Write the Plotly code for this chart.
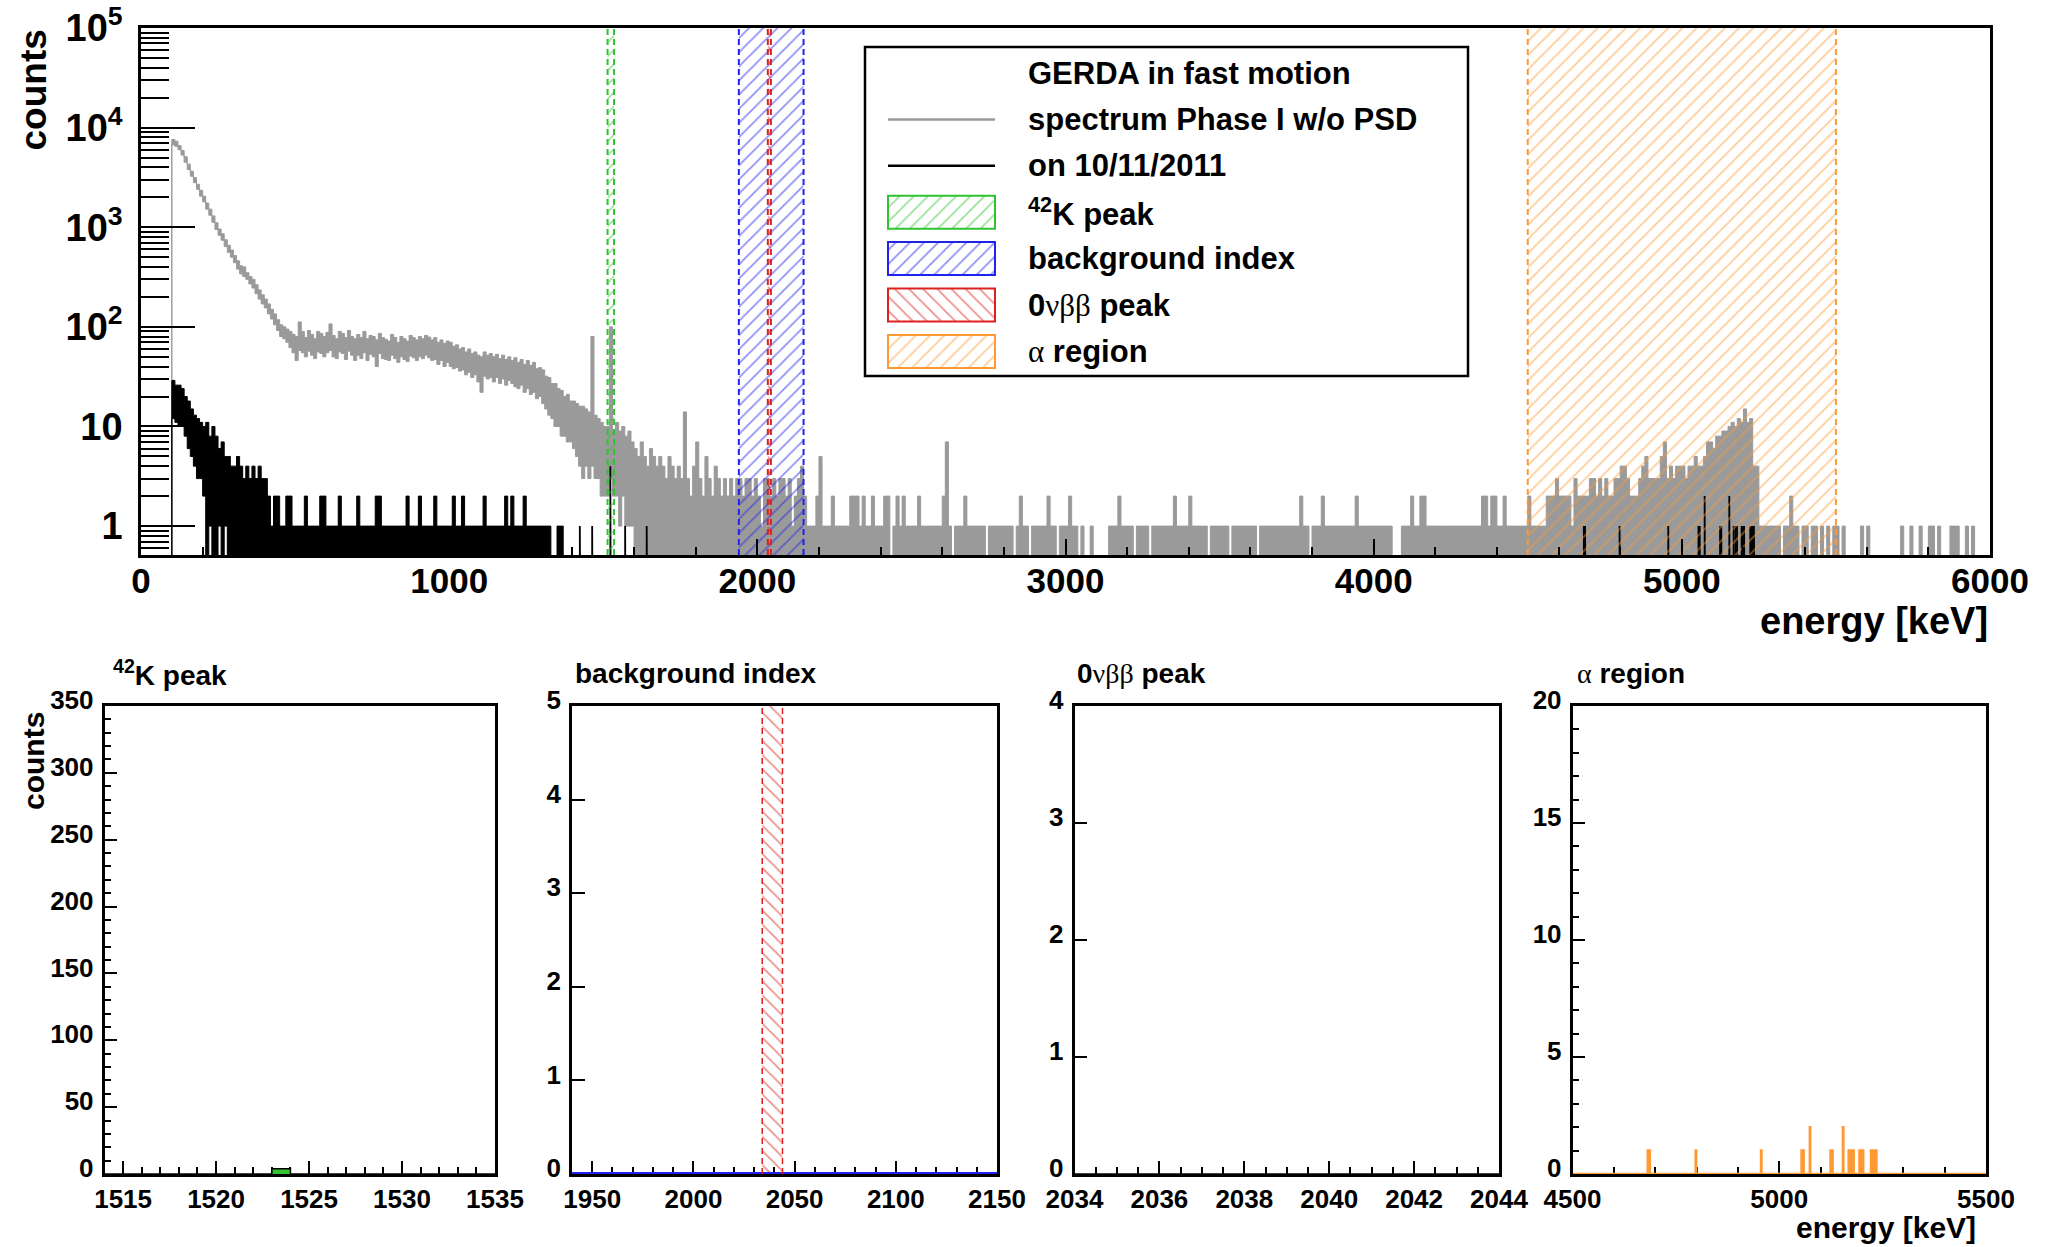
import numpy as np
import plotly.graph_objects as go

W, H = 2048, 1247
FONT = "Liberation Sans, Arial, Helvetica, sans-serif"

# ======================= DATA =======================
BIN_KEV = 10          # bin width of the overview spectrum (keV)
START_KEV = 100       # first bin edge (energy threshold)

# grey: Phase I spectrum, upper / lower envelope per 10 keV bin, 100-1600 keV
gray_hi_100_1600 = [
    7600, 7300, 6600, 5900, 5100, 4300, 3650, 3150, 2700, 2350,
    2050, 1750, 1520, 1300, 1110, 960, 860, 750, 660, 590,
    520, 460, 410, 400, 350, 320, 300, 265, 235, 210,
    190, 170, 150, 135, 118, 105, 100, 95, 90, 84,
    80, 112, 90, 78, 92, 84, 76, 90, 86, 80,
    88, 107, 82, 76, 90, 86, 78, 92, 80, 76,
    84, 78, 90, 76, 82, 80, 74, 86, 78, 75,
    72, 84, 78, 70, 80, 76, 72, 82, 78, 74,
    80, 76, 82, 79, 74, 78, 70, 74, 68, 72,
    70, 64, 66, 60, 62, 56, 60, 54, 56, 52,
    50, 56, 52, 54, 50, 53, 48, 52, 47, 50,
    46, 49, 44, 47, 42, 46, 41, 44, 38, 39,
    37, 32, 31, 27, 27, 24, 23, 20, 21, 18,
    18, 17, 16, 16, 15, 14, 80, 13, 12, 11,
    10, 10, 100, 9, 11, 9, 10, 8, 9, 7,
]
gray_lo_100_1600 = [
    6700, 6500, 6000, 5300, 4500, 3800, 3250, 2800, 2400, 2050,
    1800, 1520, 1320, 1120, 950, 830, 740, 640, 560, 500,
    440, 380, 340, 320, 300, 270, 245, 215, 190, 170,
    155, 135, 120, 105, 92, 80, 76, 70, 62, 55,
    46, 58, 55, 50, 57, 52, 48, 56, 54, 50,
    55, 58, 50, 48, 56, 54, 47, 57, 52, 46,
    52, 48, 55, 46, 53, 50, 40, 54, 48, 47,
    46, 52, 48, 44, 50, 47, 45, 51, 49, 46,
    50, 48, 52, 49, 46, 47, 42, 46, 40, 44,
    40, 38, 39, 36, 37, 33, 35, 31, 33, 28,
    22, 32, 30, 31, 28, 31, 27, 30, 26, 29,
    27, 25, 24, 26, 22, 24, 21, 22, 19, 20,
    17, 15, 13, 12, 10, 10, 8, 8, 7, 7,
    6, 5, 4, 3, 4, 3, 4, 3, 3, 2,
    2, 2, 3, 2, 2, 1, 2, 1, 1, 1,
]
# grey upper envelope above 1600 keV (lower envelope is 0 there)
gray_hi_1600_1940 = [
    6, 5, 7, 5, 4, 6, 5, 4, 5, 4,
    3, 5, 4, 3, 4, 3, 14, 3, 2, 4,
    7, 3, 2, 5, 3, 2, 4, 3, 2, 3,
    2, 3, 2, 3,
]
gray_hi_1940_2150 = [3, 2, 3, 3, 2, 3, 2, 1, 3, 3, 2, 3, 2, 3, 3, 2, 3, 1, 2, 3, 4]
gray_hi_2150_4500 = [
    2, 1, 1, 1, 2,
    5, 1, 1, 1, 2, 1, 1, 1, 1, 1,
    2, 2, 2, 1, 2, 1, 1, 2, 1, 1,
    1, 2, 2, 0, 1, 2, 1, 2, 1, 1,
    1, 1, 2, 1, 1, 1, 1, 1, 1, 1,
    2, 7, 1, 0, 1, 1, 1, 2, 1, 1,
    1, 1, 1, 1, 0, 1, 1, 1, 1, 1,
    1, 1, 1, 0, 1, 2, 1, 1, 0, 1,
    1, 1, 1, 1, 2, 1, 1, 0, 1, 1,
    1, 2, 1, 1, 0, 1, 0, 0, 1, 0,
    0, 0, 0, 0, 1, 1, 1, 2, 1, 1,
    1, 1, 0, 1, 1, 1, 1, 0, 1, 1,
    1, 1, 1, 1, 1, 2, 1, 1, 1, 1,
    2, 1, 1, 1, 1, 1, 0, 1, 1, 1,
    1, 1, 1, 0, 1, 1, 1, 1, 1, 1,
    1, 1, 0, 1, 1, 1, 1, 1, 1, 1,
    1, 1, 1, 1, 1, 1, 2, 1, 1, 0,
    1, 1, 1, 2, 1, 1, 1, 1, 1, 1,
    1, 1, 1, 1, 2, 1, 1, 1, 1, 1,
    1, 1, 1, 1, 1, 1, 0, 0, 0, 1,
    1, 1, 2, 1, 1, 2, 2, 1, 1, 1,
    1, 1, 1, 1, 1, 1, 1, 1, 1, 1,
    1, 1, 1, 1, 1, 2, 2, 1, 2, 2,
    1, 1, 2, 1, 1, 1, 1, 1, 1, 1,
]
gray_hi_4500_5500 = [
    2, 1, 1, 1, 1, 1, 2, 2, 2, 3,
    2, 2, 2, 2, 1, 3, 2, 2, 2, 2,
    3, 3, 2, 3, 2, 3, 2, 2, 3, 3,
    4, 4, 3, 2, 2, 2, 3, 4, 5, 3,
    3, 3, 3, 5, 7, 3, 4, 3, 4, 4,
    4, 3, 4, 4, 5, 4, 4, 5, 7, 7,
    6, 8, 8, 9, 9, 10, 11, 10, 12, 11,
    15, 11, 12, 4, 4, 1, 1, 1, 1, 1,
    1, 1, 0, 1, 1, 2, 1, 1, 0, 1,
    1, 0, 1, 1, 0, 1, 0, 1, 0, 1,
]
gray_hi_5500_6000 = [
    1, 0, 1, 0, 0, 0, 0, 0, 1, 0,
    1, 0, 0, 0, 0, 0, 0, 0, 0, 0,
    0, 1, 0, 0, 1, 0, 0, 1, 0, 0,
    1, 1, 0, 1, 0, 0, 0, 1, 1, 1,
    0, 0, 1, 0, 1, 0, 0, 0, 0, 0,
]

# black: data of 10/11/2011, envelopes per 10 keV bin, 100-1400 keV
black_hi_100_1400 = [
    29, 26, 26, 24, 20, 18, 15, 13, 12, 11,
    10, 11, 8, 10, 8, 6, 7, 5, 5, 4,
    4, 5, 4, 3, 4, 3, 4, 3, 4, 3,
    3, 2, 1, 2, 2, 1, 1, 2, 2, 1,
    1, 1, 1, 2, 1, 1, 1, 1, 2, 2,
    1, 1, 1, 1, 2, 1, 1, 1, 1, 1,
    2, 1, 1, 1, 1, 1, 2, 2, 1, 1,
    1, 1, 1, 1, 1, 1, 2, 1, 1, 1,
    2, 1, 1, 1, 1, 2, 1, 1, 1, 1,
    1, 2, 1, 1, 2, 1, 1, 1, 1, 1,
    1, 2, 1, 1, 1, 1, 1, 1, 2, 1,
    2, 1, 1, 1, 2, 1, 1, 1, 1, 1,
    1, 1, 1, 0, 0, 1, 1, 0, 0, 0,
]
black_lo_100_300 = [
    12, 11, 10, 10, 8, 6, 5, 4, 3, 3,
    2, 0, 1, 0, 0, 1, 0, 1, 0, 0,
]
# black: single events above 1400 keV (1 keV bins: lower edge, counts)
black_event_keV = [1424, 1464, 1523, 1571, 1641,
                   4682, 4686, 4798, 4956, 5054, 5058, 5074, 5124, 5128, 5154,
                   5168, 5174, 5179, 5194, 5198, 5202, 5222, 5226, 5230, 5234]
black_event_counts = [1, 1, 4, 1, 1,
                      1, 1, 1, 1, 1, 1, 2, 1, 1, 2,
                      1, 1, 1, 1, 1, 1, 1, 1, 1, 1]

# energy windows
band_names = ["<sup>42</sup>K peak", "background index",
              "0<span style=\"font-weight:normal;font-family:'Liberation Serif'\">\u03bd\u03b2\u03b2</span> peak",
              "<span style=\"font-weight:normal;font-family:'Liberation Serif'\">\u03b1</span> region"]
band_lo = [1514, 1940, 2034, 4500]
band_hi = [1535, 2150, 2044, 5500]
band_colors = ["#2fc42f", "#2222ee", "#dd2020", "#ff9933"]
band_hatch = ["/", "/", "\\", "/"]

legend_header = "GERDA in fast motion"
series_names = ["spectrum Phase I w/o PSD", "on 10/11/2011"]

x_tickvals_top = [0, 1000, 2000, 3000, 4000, 5000, 6000]
y_tickvals_top = [1, 10, 100, 1000, 10000, 100000]
y_ticktext_top = ["1", "10", "10<sup>2</sup>", "10<sup>3</sup>", "10<sup>4</sup>", "10<sup>5</sup>"]

# ======================= HELPERS =======================
GRAY = "#9a9a9a"
FLOOR = 0.2


def step_xy(start, width, vals, floor):
    vals = np.asarray(vals, float)
    v = np.where(vals > 0, vals, floor)
    edges = start + width * np.arange(len(v) + 1)
    x = np.concatenate([[edges[0]], edges])
    y = np.concatenate([[floor], v, [floor]])
    return x, y


def event_xy(energies, counts, floor):
    x, y = [], []
    for e, c in zip(energies, counts):
        x += [e, e, e + 1, e + 1, None]
        y += [floor, c, c, floor, None]
    return x, y


def panel_xy(lo, hi, energies, counts):
    x, y = [lo], [0]
    for e, c in sorted(zip(energies, counts)):
        if lo <= e < hi:
            x += [e, e, e + 1, e + 1]
            y += [0, c, c, 0]
    x.append(hi)
    y.append(0)
    return x, y


def fnt(size, color="black"):
    return dict(family=FONT, size=size, color=color, weight="bold")


gray_hi = (gray_hi_100_1600 + gray_hi_1600_1940 + gray_hi_1940_2150 +
           gray_hi_2150_4500 + gray_hi_4500_5500 + gray_hi_5500_6000)
gray_lo = gray_lo_100_1600 + [0] * (len(gray_hi) - len(gray_lo_100_1600))
black_hi = black_hi_100_1400
black_lo = black_lo_100_300 + [0] * (len(black_hi) - len(black_lo_100_300))

fig = go.Figure()

# ---------------- top overview ----------------
for lo, hi, col in [(gray_lo, gray_hi, GRAY), (black_lo, black_hi, "black")]:
    xl, yl = step_xy(START_KEV, BIN_KEV, lo, FLOOR)
    xh, yh = step_xy(START_KEV, BIN_KEV, hi, FLOOR)
    fig.add_trace(go.Scatter(x=xl, y=yl, mode="lines", line=dict(color=col, width=1, shape="hv"),
                             xaxis="x", yaxis="y", hoverinfo="skip"))
    fig.add_trace(go.Scatter(x=xh, y=yh, mode="lines", line=dict(color=col, width=1, shape="hv"),
                             fill="tonexty", fillcolor=col, xaxis="x", yaxis="y", hoverinfo="skip"))

ex, ey = event_xy(black_event_keV, black_event_counts, FLOOR)
fig.add_trace(go.Scatter(x=ex, y=ey, mode="lines", line=dict(color="black", width=1.8),
                         xaxis="x", yaxis="y", hoverinfo="skip"))

HATCH_SIZE, HATCH_SOL = 10, 0.18


def hatch_bar(lo, hi, top, col, hatch, xa, ya, border=0):
    return go.Bar(x=[(lo + hi) / 2], y=[top], base=[0], width=[hi - lo], xaxis=xa, yaxis=ya,
                  marker=dict(color="rgba(0,0,0,0)", line=dict(width=border, color=col),
                              pattern=dict(shape=hatch, fgcolor=col, bgcolor="rgba(0,0,0,0)",
                                           size=HATCH_SIZE, solidity=HATCH_SOL, fillmode="overlay")),
                  hoverinfo="skip")


for lo, hi, col, hatch in zip(band_lo, band_hi, band_colors, band_hatch):
    fig.add_trace(hatch_bar(lo, hi, 1, col, hatch, "x", "y7"))
    fig.add_trace(go.Scatter(x=[lo, lo, None, hi, hi], y=[0, 1, None, 0, 1], mode="lines",
                             line=dict(color=col, width=2, dash="6px,4px"),
                             xaxis="x", yaxis="y7", hoverinfo="skip"))

# ---------------- bottom zoom panels ----------------
panel_ymax = [350, 5, 4, 20]
panel_line = ["black", band_colors[1], "black", band_colors[3]]
panel_width = [1.5, 4, 1.5, 2.5]
for i in range(4):
    xa, ya = "x%d" % (i + 2), "y%d" % (i + 2)
    px, py = panel_xy(band_lo[i], band_hi[i], black_event_keV, black_event_counts)
    fig.add_trace(go.Scatter(x=px, y=py, mode="lines", line=dict(color=panel_line[i], width=panel_width[i]),
                             fill="tozeroy", fillcolor=band_colors[i], xaxis=xa, yaxis=ya, hoverinfo="skip"))

# 0vbb window inside the background-index panel
fig.add_trace(hatch_bar(band_lo[2], band_hi[2], panel_ymax[1], band_colors[2], band_hatch[2], "x3", "y3"))
fig.add_trace(go.Scatter(x=[band_lo[2], band_lo[2], None, band_hi[2], band_hi[2]],
                         y=[0, panel_ymax[1], None, 0, panel_ymax[1]], mode="lines",
                         line=dict(color=band_colors[2], width=1.5, dash="6px,4px"),
                         xaxis="x3", yaxis="y3", hoverinfo="skip"))

# ---------------- legend (drawn in its own box) ----------------
LEG_X0, LEG_X1, LEG_Y0, LEG_Y1 = 865, 1468, 47, 376
ROW0, DROW = 26.0, 46.4
SYM0, SYM1, TXT_X = 23, 130, 161
rows = [ROW0 + DROW * k for k in range(7)]
fig.add_trace(go.Scatter(x=[SYM0, SYM1], y=[rows[1], rows[1]], mode="lines",
                         line=dict(color=GRAY, width=2.5), xaxis="x6", yaxis="y6", hoverinfo="skip"))
fig.add_trace(go.Scatter(x=[SYM0, SYM1], y=[rows[2], rows[2]], mode="lines",
                         line=dict(color="black", width=2.5), xaxis="x6", yaxis="y6", hoverinfo="skip"))
for k in range(4):
    r = rows[3 + k]
    fig.add_trace(go.Bar(x=[(SYM0 + SYM1) / 2], y=[33], base=[r - 16.5], width=[SYM1 - SYM0],
                         xaxis="x6", yaxis="y6",
                         marker=dict(color="rgba(0,0,0,0)", line=dict(width=2, color=band_colors[k]),
                                     pattern=dict(shape=band_hatch[k], fgcolor=band_colors[k],
                                                  bgcolor="rgba(0,0,0,0)", size=HATCH_SIZE,
                                                  solidity=HATCH_SOL, fillmode="overlay")),
                         hoverinfo="skip"))

legend_labels = [legend_header] + series_names + band_names
annotations = []
for k, lab in enumerate(legend_labels):
    annotations.append(dict(x=TXT_X, y=rows[k], xref="x6", yref="y6", text=lab, showarrow=False,
                            xanchor="left", yanchor="middle", font=fnt(31)))

# axis titles and panel titles
annotations += [
    dict(x=1990 / W, y=1 - 621 / H, xref="paper", yref="paper", text="energy [keV]", showarrow=False,
         xanchor="right", yanchor="middle", font=fnt(38)),
    dict(x=33 / W, y=1 - 28 / H, xref="paper", yref="paper", text="counts", showarrow=False,
         textangle=-90, xanchor="center", yanchor="top", font=fnt(37)),
    dict(x=33 / W, y=1 - 710 / H, xref="paper", yref="paper", text="counts", showarrow=False,
         textangle=-90, xanchor="center", yanchor="top", font=fnt(30)),
    dict(x=1978 / W, y=1 - 1227 / H, xref="paper", yref="paper", text="energy [keV]", showarrow=False,
         xanchor="right", yanchor="middle", font=fnt(30)),
]
title_x = [111, 573, 1075, 1575]
for k in range(4):
    annotations.append(dict(x=title_x[k] / W, y=1 - 673 / H, xref="paper", yref="paper",
                            text=band_names[k], showarrow=False, xanchor="left", yanchor="middle",
                            font=fnt(28)))

# ---------------- axes ----------------
def frame(**kw):
    d = dict(showline=True, linecolor="black", linewidth=2.5, mirror=True, ticks="inside",
             tickcolor="black", tickwidth=2, showgrid=False, zeroline=False, tickfont=fnt(26),
             automargin=False)
    d.update(kw)
    return d


minor_log = [m * 10.0 ** d for d in range(-1, 5) for m in range(2, 10) if 0.5 < m * 10.0 ** d < 1e5]

layout = dict(
    width=W, height=H, margin=dict(l=0, r=0, t=0, b=0, autoexpand=False),
    paper_bgcolor="white", plot_bgcolor="white", showlegend=False, barmode="overlay",
    font=dict(family=FONT, color="black"),
    xaxis=frame(domain=[141 / W, 1990 / W], anchor="y", range=[0, 6000], tickvals=x_tickvals_top,
                ticklen=16, tickfont=fnt(35), ticklabelstandoff=-7,
                minor=dict(dtick=200, ticks="inside", ticklen=8, tickcolor="black", tickwidth=2)),
    yaxis=frame(domain=[1 - 555 / H, 1 - 28 / H], anchor="x", type="log", range=[-0.29, 5.0],
                tickvals=y_tickvals_top, ticktext=y_ticktext_top, ticklen=54, tickfont=fnt(38),
                ticklabelstandoff=8,
                minor=dict(tickvals=minor_log, ticks="inside", ticklen=28, tickcolor="black", tickwidth=2)),
    yaxis7=dict(overlaying="y", anchor="x", range=[0, 1], visible=False, fixedrange=True, automargin=False),
    xaxis6=dict(domain=[LEG_X0 / W, LEG_X1 / W], anchor="y6", range=[0, LEG_X1 - LEG_X0], visible=False,
                automargin=False),
    yaxis6=dict(domain=[1 - LEG_Y1 / H, 1 - LEG_Y0 / H], anchor="x6", range=[LEG_Y1 - LEG_Y0, 0],
                visible=False, automargin=False),
    annotations=annotations,
    shapes=[dict(type="rect", xref="paper", yref="paper", x0=LEG_X0 / W, x1=LEG_X1 / W,
                 y0=1 - LEG_Y1 / H, y1=1 - LEG_Y0 / H, line=dict(color="black", width=2.5),
                 fillcolor="rgba(0,0,0,0)", layer="above")],
)

panel_px = [(104.5, 495), (572, 997), (1074.5, 1499), (1572.5, 1986)]
panel_xticks = [dict(tick0=1515, dtick=5, minor=1), dict(tick0=1950, dtick=50, minor=10),
                dict(tick0=2034, dtick=2, minor=0.5), dict(tick0=4500, dtick=500, minor=100)]
panel_yticks = [dict(dtick=50, minor=10), dict(dtick=1, minor=None), dict(dtick=1, minor=None),
                dict(dtick=5, minor=1)]
for i in range(4):
    n = i + 2
    xt, yt = panel_xticks[i], panel_yticks[i]
    layout["xaxis%d" % n] = frame(domain=[panel_px[i][0] / W, panel_px[i][1] / W], anchor="y%d" % n,
                                  range=[band_lo[i], band_hi[i]], tick0=xt["tick0"], dtick=xt["dtick"],
                                  ticklen=13, ticklabelstandoff=0, layer="below traces",
                                  minor=dict(dtick=xt["minor"], ticks="inside", ticklen=7,
                                             tickcolor="black", tickwidth=2))
    ydict = frame(domain=[1 - 1174 / H, 1 - 706 / H], anchor="x%d" % n, range=[0, panel_ymax[i]],
                  tick0=0, dtick=yt["dtick"], ticklen=13, ticklabelstandoff=3, ticklabelshift=-6)
    if yt["minor"]:
        ydict["minor"] = dict(dtick=yt["minor"], ticks="inside", ticklen=7, tickcolor="black", tickwidth=2)
    layout["yaxis%d" % n] = ydict

fig.update_layout(**layout)
fig.write_html("out.html")
